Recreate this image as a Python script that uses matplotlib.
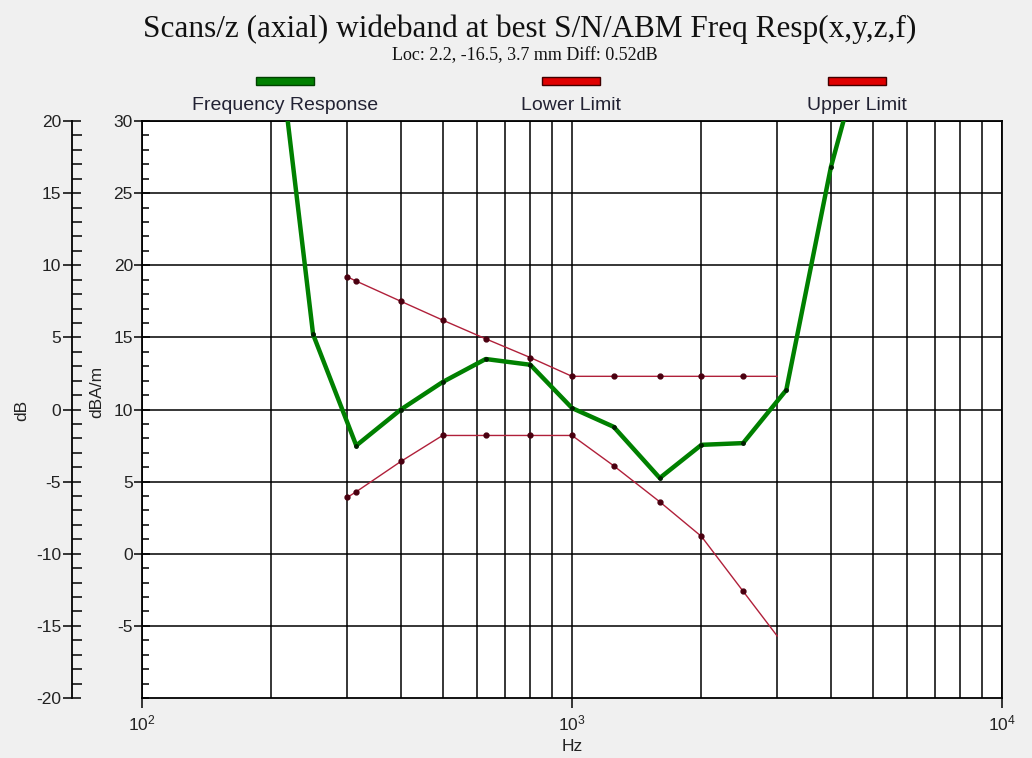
import matplotlib
matplotlib.use("Agg")
import matplotlib.pyplot as plt
from matplotlib.patches import Rectangle
from matplotlib.ticker import MultipleLocator, FixedLocator, NullFormatter

plt.rcParams['font.family'] = ['Liberation Sans', 'DejaVu Sans']
plt.rcParams['mathtext.fontset'] = 'custom'
plt.rcParams['mathtext.rm'] = 'Liberation Sans'
plt.rcParams['mathtext.default'] = 'regular'
plt.rcParams['axes.unicode_minus'] = False

# ---- data ----
resp_freq = [200, 250, 315, 400, 500, 630, 800, 1000, 1250, 1600, 2000, 2500, 3150, 4000, 5000]
resp_val = [39.5, 15.2, 7.5, 10.0, 11.9, 13.5, 13.1, 10.1, 8.8, 5.25, 7.55, 7.67, 11.35, 26.8, 37.4]

limit_freq = [300, 315, 400, 500, 630, 800, 1000, 1250, 1600, 2000, 2500, 3000]
lower_val = [3.9, 4.3, 6.4, 8.2, 8.2, 8.2, 8.2, 6.1, 3.6, 1.2, -2.6, -5.7]
upper_val = [19.2, 18.9, 17.5, 16.2, 14.9, 13.6, 12.3, 12.3, 12.3, 12.3, 12.3, 12.3]

inner_ticks = [-5, 0, 5, 10, 15, 20, 25, 30]
outer_ticks = [-20, -15, -10, -5, 0, 5, 10, 15, 20]
legend_labels = ["Frequency Response", "Lower Limit", "Upper Limit"]
title = "Scans/z (axial) wideband at best S/N/ABM Freq Resp(x,y,z,f)"
subtitle = "Loc: 2.2, -16.5, 3.7 mm Diff: 0.52dB"

W, H = 1032, 758
fig = plt.figure(figsize=(W / 100, H / 100), dpi=100, facecolor='#f0f0f0')

L, R, T, B = 142, 1002, 121, 698
ax = fig.add_axes([L / W, 1 - B / H, (R - L) / W, (B - T) / H])
ax.set_facecolor('white')
ax.set_xscale('log')
ax.set_xlim(100, 10000)
ax.set_ylim(-10, 30)

tc = '#222222'
# grid
ax.xaxis.set_minor_locator(FixedLocator([m * 10 ** d for d in (2, 3) for m in range(2, 10)]))
ax.xaxis.set_minor_formatter(NullFormatter())
ax.set_xticks([100, 1000, 10000])
ax.grid(True, which='both', axis='x', color='black', lw=1.1)
ax.set_yticks(inner_ticks)
ax.yaxis.set_minor_locator(MultipleLocator(1))
ax.grid(True, which='major', axis='y', color='black', lw=1.1)
ax.set_axisbelow(True)

ax.tick_params(axis='x', which='major', direction='out', length=7, width=1.1,
               labelsize=12.5, labelcolor=tc, pad=4)
ax.tick_params(axis='x', which='minor', length=0)
ax.tick_params(axis='y', which='major', direction='inout', length=11, width=1.1,
               labelsize=12.5, labelcolor=tc, pad=1)
ax.tick_params(axis='y', which='minor', direction='in', length=5, width=1.1)
for s in ax.spines.values():
    s.set_linewidth(1.3)
    s.set_color('black')

ax.set_xlabel('Hz', fontsize=12.5, color=tc, labelpad=4)

# outer dB axis
sec = ax.secondary_yaxis((72 - L) / (R - L), functions=(lambda y: y - 10, lambda y: y + 10))
sec.set_yticks(outer_ticks)
sec.yaxis.set_minor_locator(MultipleLocator(1))
sec.tick_params(axis='y', which='major', direction='inout', length=13.5, width=1.1,
                labelsize=12.5, labelcolor=tc, pad=1)
sec.tick_params(axis='y', which='minor', direction='in', length=7, width=1.1)
sec.spines['left'].set_linewidth(1.3)

fig.text(22 / W, 1 - 410 / H, 'dB', rotation=90, ha='center', va='center', fontsize=12.5, color=tc)
fig.text(97 / W, 1 - 392 / H, 'dBA/m', rotation=90, ha='center', va='center', fontsize=12.5, color=tc)

# data
red = '#b0203a'
mk = '#4a0010'
ax.plot(limit_freq, upper_val, color=red, lw=1.0, zorder=3)
ax.plot(limit_freq[:-1], upper_val[:-1], ls='none', marker='o', ms=3.5, color=mk, zorder=4)
ax.plot(limit_freq, lower_val, color=red, lw=1.0, zorder=3)
ax.plot(limit_freq[:-1], lower_val[:-1], ls='none', marker='o', ms=3.5, color=mk, zorder=4)
ax.plot(resp_freq, resp_val, color='#008000', lw=3.2, zorder=5, solid_joinstyle='round')
ax.plot(resp_freq, resp_val, ls='none', marker='o', ms=2.5, color='#002000', zorder=6)

# titles
fig.text(530 / W, 1 - 29 / H, title, ha='center', va='center', fontsize=22.5,
         family='Liberation Serif', color='#111111')
fig.text(525 / W, 1 - 56 / H, subtitle, ha='center', va='center', fontsize=13,
         family='Liberation Serif', color='#111111')

# legend
items = [(285, '#008000', '#004000'), (571, '#e00000', '#400000'), (857, '#e00000', '#400000')]
for (cx, fc, ec), lab in zip(items, legend_labels):
    fig.add_artist(Rectangle(((cx - 29) / W, 1 - 85 / H), 58 / W, 8 / H,
                             transform=fig.transFigure, facecolor=fc, edgecolor=ec, lw=1.0))
    fig.text(cx / W, 1 - 105 / H, lab, ha='center', va='center', fontsize=14, color='#222233')

fig.savefig('out.png', dpi=100, facecolor=fig.get_facecolor())
